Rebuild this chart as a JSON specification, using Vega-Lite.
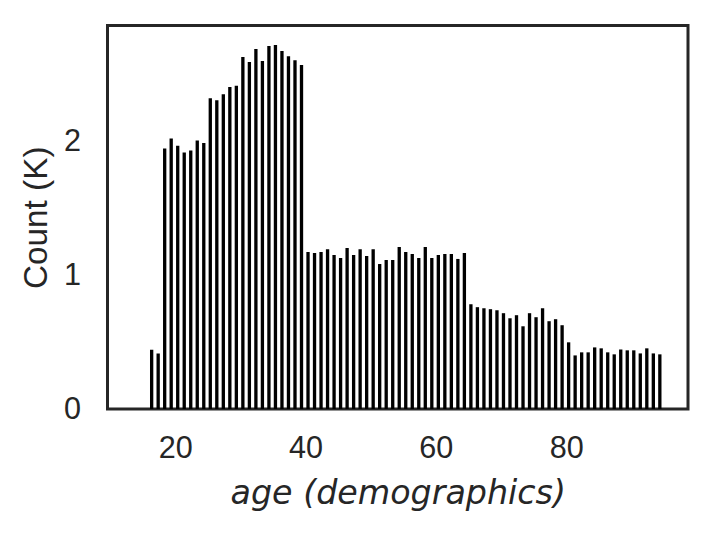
{
  "$schema": "https://vega.github.io/schema/vega-lite/v6.json",
  "autosize": "none",
  "width": 580.5,
  "height": 383.5,
  "padding": {"left": 107.5, "top": 25.5, "right": 25, "bottom": 125.5},
  "background": "white",
  "config": {
    "view": {"stroke": "#262626", "strokeWidth": 3, "fill": "white"},
    "axis": {
      "domain": false,
      "ticks": false,
      "grid": false,
      "labelFont": "Liberation Sans",
      "labelFontSize": 30.6,
      "labelColor": "#262626",
      "titleFontSize": 33.3,
      "titleColor": "#262626",
      "titleFontWeight": "normal"
    }
  },
  "data": {
    "values": [
      {"age": 16, "count_k": 0.444}, {"age": 17, "count_k": 0.416}, {"age": 18, "count_k": 1.95},
      {"age": 19, "count_k": 2.025}, {"age": 20, "count_k": 1.97}, {"age": 21, "count_k": 1.92},
      {"age": 22, "count_k": 1.935}, {"age": 23, "count_k": 2.01}, {"age": 24, "count_k": 1.99},
      {"age": 25, "count_k": 2.325}, {"age": 26, "count_k": 2.31}, {"age": 27, "count_k": 2.355},
      {"age": 28, "count_k": 2.41}, {"age": 29, "count_k": 2.42}, {"age": 30, "count_k": 2.634},
      {"age": 31, "count_k": 2.596}, {"age": 32, "count_k": 2.694}, {"age": 33, "count_k": 2.604},
      {"age": 34, "count_k": 2.717}, {"age": 35, "count_k": 2.724}, {"age": 36, "count_k": 2.679},
      {"age": 37, "count_k": 2.64}, {"age": 38, "count_k": 2.61}, {"age": 39, "count_k": 2.574},
      {"age": 40, "count_k": 1.175}, {"age": 41, "count_k": 1.168}, {"age": 42, "count_k": 1.175},
      {"age": 43, "count_k": 1.195}, {"age": 44, "count_k": 1.153}, {"age": 45, "count_k": 1.13},
      {"age": 46, "count_k": 1.205}, {"age": 47, "count_k": 1.153}, {"age": 48, "count_k": 1.195},
      {"age": 49, "count_k": 1.145}, {"age": 50, "count_k": 1.195}, {"age": 51, "count_k": 1.085},
      {"age": 52, "count_k": 1.115}, {"age": 53, "count_k": 1.115}, {"age": 54, "count_k": 1.213},
      {"age": 55, "count_k": 1.175}, {"age": 56, "count_k": 1.16}, {"age": 57, "count_k": 1.13},
      {"age": 58, "count_k": 1.213}, {"age": 59, "count_k": 1.13}, {"age": 60, "count_k": 1.153},
      {"age": 61, "count_k": 1.16}, {"age": 62, "count_k": 1.16}, {"age": 63, "count_k": 1.123},
      {"age": 64, "count_k": 1.168}, {"age": 65, "count_k": 0.784}, {"age": 66, "count_k": 0.762},
      {"age": 67, "count_k": 0.754}, {"age": 68, "count_k": 0.747}, {"age": 69, "count_k": 0.739},
      {"age": 70, "count_k": 0.717}, {"age": 71, "count_k": 0.679}, {"age": 72, "count_k": 0.702},
      {"age": 73, "count_k": 0.619}, {"age": 74, "count_k": 0.717}, {"age": 75, "count_k": 0.687},
      {"age": 76, "count_k": 0.754}, {"age": 77, "count_k": 0.657}, {"age": 78, "count_k": 0.672},
      {"age": 79, "count_k": 0.627}, {"age": 80, "count_k": 0.499}, {"age": 81, "count_k": 0.401},
      {"age": 82, "count_k": 0.424}, {"age": 83, "count_k": 0.424}, {"age": 84, "count_k": 0.461},
      {"age": 85, "count_k": 0.454}, {"age": 86, "count_k": 0.424}, {"age": 87, "count_k": 0.409},
      {"age": 88, "count_k": 0.446}, {"age": 89, "count_k": 0.439}, {"age": 90, "count_k": 0.439},
      {"age": 91, "count_k": 0.416}, {"age": 92, "count_k": 0.454}, {"age": 93, "count_k": 0.416},
      {"age": 94, "count_k": 0.409}
    ]
  },
  "mark": {"type": "bar", "color": "black", "binSpacing": 3.2, "xOffset": -1.3, "clip": true},
  "encoding": {
    "x": {
      "field": "age",
      "type": "quantitative",
      "bin": {"step": 1, "extent": [16, 95]},
      "scale": {"domain": [9.6, 98.7], "nice": false, "zero": false},
      "axis": {
        "values": [20, 40, 60, 80],
        "format": "d",
        "labelPadding": 24,
        "title": "age (demographics)",
        "titleFont": "DejaVu Sans",
        "titleFontStyle": "italic",
        "titlePadding": 14
      }
    },
    "y": {
      "field": "count_k",
      "type": "quantitative",
      "scale": {"domain": [0, 2.87], "nice": false},
      "axis": {
        "values": [0, 1, 2],
        "format": "d",
        "labelPadding": 27,
        "title": "Count (K)",
        "titleFont": "Liberation Sans",
        "titlePadding": 10
      }
    }
  }
}
